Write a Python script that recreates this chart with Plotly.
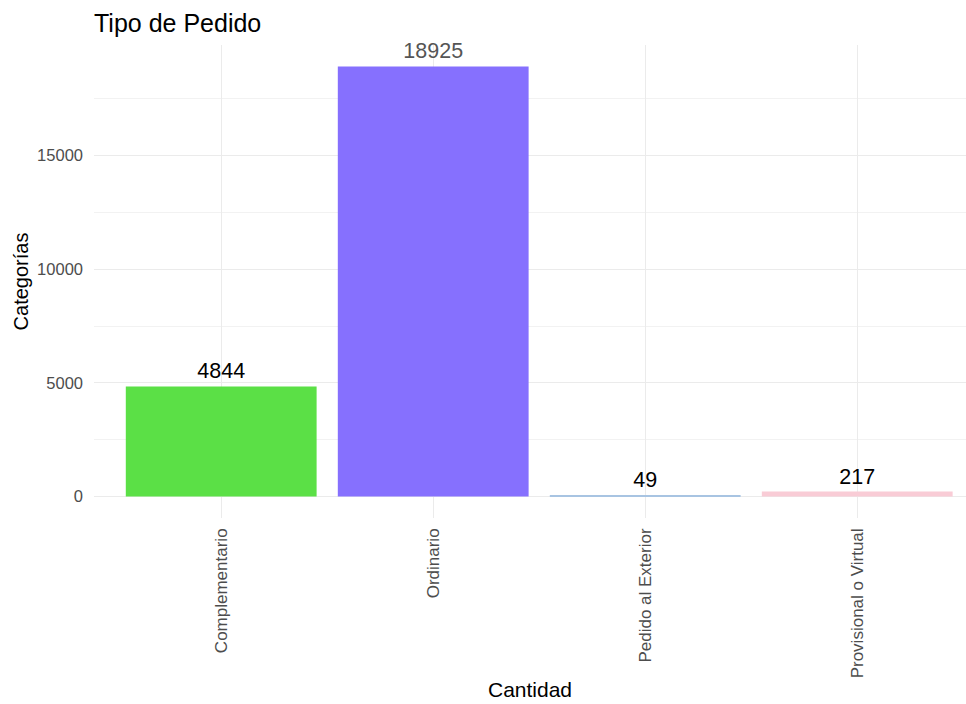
import plotly.graph_objects as go

# Order types and their counts
categorias = ["Complementario", "Ordinario", "Pedido al Exterior", "Provisional o Virtual"]
cantidades = [4844, 18925, 49, 217]
colores = ["#5BE046", "#8670FE", "#A8C4E2", "#F9CCD6"]
colores_texto = ["#000000", "#555555", "#000000", "#000000"]

fig = go.Figure(
    go.Bar(
        x=categorias,
        y=cantidades,
        marker=dict(color=colores, line=dict(width=0)),
        width=0.9,
        text=[str(v) for v in cantidades],
        textposition="outside",
        textfont=dict(size=21.5, color=colores_texto, family="Liberation Sans, Arial, sans-serif"),
        cliponaxis=False,
        hoverinfo="x+y",
    )
)

grid_major = "#EBEBEB"
grid_minor = "#F2F2F2"

fig.update_layout(
    width=966,
    height=704,
    margin=dict(l=94, r=0, t=45, b=186),
    paper_bgcolor="white",
    plot_bgcolor="white",
    font=dict(family="Liberation Sans, Arial, sans-serif", color="#4D4D4D"),
    showlegend=False,
    bargap=0.1,
    title=dict(
        text="Tipo de Pedido",
        x=0,
        xref="paper",
        xanchor="left",
        y=1 - 23 / 704,
        yref="container",
        yanchor="middle",
        font=dict(size=25, color="#000000"),
    ),
    xaxis=dict(
        range=[-0.6, 3.513],
        tickangle=-90,
        tickfont=dict(size=17, color="#4D4D4D"),
        showgrid=True,
        gridcolor=grid_major,
        gridwidth=1.2,
        zeroline=False,
        showline=False,
        ticks="",
        ticklabelstandoff=6,
        title=dict(text="Cantidad", font=dict(size=21, color="#000000"), standoff=4),
    ),
    yaxis=dict(
        range=[-946, 19871],
        tickvals=[0, 5000, 10000, 15000],
        ticktext=["0", "5000", "10000", "15000"],
        tickfont=dict(size=16.5, color="#4D4D4D"),
        showgrid=True,
        gridcolor=grid_major,
        gridwidth=1.2,
        minor=dict(tickvals=[2500, 7500, 12500, 17500], showgrid=True, gridcolor=grid_minor, gridwidth=1),
        zeroline=False,
        showline=False,
        ticks="",
        ticklabelstandoff=10,
        title=dict(text="Categorías", font=dict(size=20, color="#000000"), standoff=3),
    ),
)

fig.write_html("out.html")
